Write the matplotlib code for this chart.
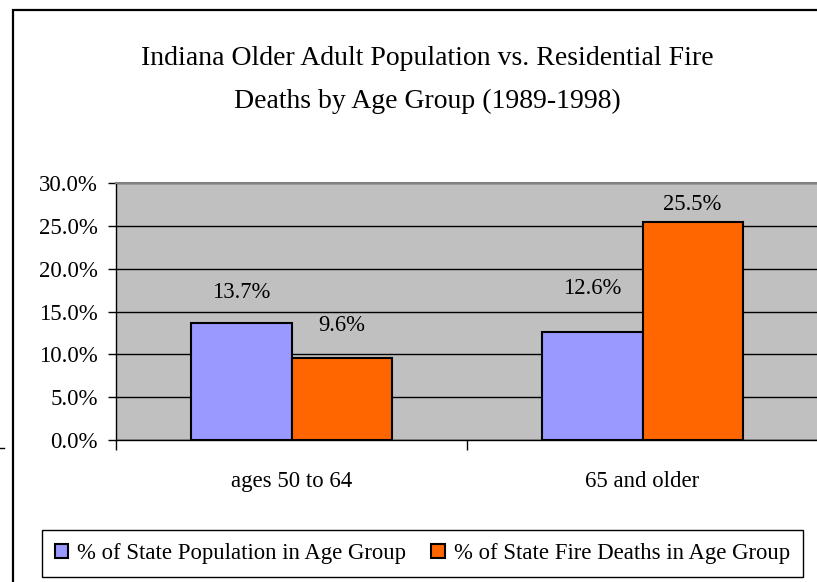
import matplotlib
matplotlib.use("Agg")
import matplotlib.pyplot as plt
from matplotlib.patches import Rectangle, Patch
import numpy as np

plt.rcParams['font.family'] = ['Liberation Serif', 'DejaVu Serif']

# ---- data ----
title = "Indiana Older Adult Population vs. Residential Fire\nDeaths by Age Group (1989-1998)"
categories = ["ages 50 to 64", "65 and older"]
series_names = ["% of State Population in Age Group", "% of State Fire Deaths in Age Group"]
population_pct = [13.7, 12.6]
fire_deaths_pct = [9.6, 25.5]
y_ticks = [0, 5, 10, 15, 20, 25, 30]

# ---- style ----
colors = ["#9999FF", "#FF6600"]
label_offsets_px = [[30, 44], [32, 17]]  # per series, per category

W, H = 817, 582
fig = plt.figure(figsize=(W / 100, H / 100), dpi=100)

# outer chart frame (extends past right/bottom edge)
fig.add_artist(Rectangle((12.5 / W, -0.1), 1.2, 1 - 9.5 / H + 0.1, transform=fig.transFigure,
                         fill=False, edgecolor='black', linewidth=1.6))
# small stray dash at left
fig.add_artist(plt.Line2D([0, 4 / W], [1 - 448 / H, 1 - 448 / H], transform=fig.transFigure,
                          color='black', linewidth=1))

left, right, top, bottom = 116 / W, 818 / W, 1 - 183 / H, 1 - 440 / H
ax = fig.add_axes([left, bottom, right - left, top - bottom])
ax.set_facecolor('#C0C0C0')

x = np.arange(len(categories))
w = 1 / 3.5
series = [population_pct, fire_deaths_pct]
for i, (vals, c) in enumerate(zip(series, colors)):
    xs = x + (i - 0.5) * w
    ax.bar(xs, vals, width=w, color=c, edgecolor='black', linewidth=1.5,
           label=series_names[i], zorder=3)
    for j, (bx, v) in enumerate(zip(xs, vals)):
        ax.annotate(f"{v:.1f}%", xy=(bx, v), xytext=(0, label_offsets_px[i][j] * 0.72),
                    textcoords='offset points', ha='center', va='center',
                    fontsize=16.3, zorder=4)

ax.set_xlim(-0.5, 1.5)
ax.set_ylim(0, 30)
ax.set_yticks(y_ticks)
ax.set_yticklabels([f"{t:.1f}%" for t in y_ticks], fontsize=16.5)
ax.yaxis.grid(True, color='black', linewidth=1, zorder=0)
ax.set_axisbelow(True)
ax.tick_params(axis='y', length=6, width=1, pad=7, direction='out')

ax.set_xticks(x)
ax.set_xticklabels(categories, fontsize=16.4)
ax.set_xticks([-0.5, 0.5, 1.5], minor=True)
ax.tick_params(axis='x', which='major', length=0, pad=22)
ax.tick_params(axis='x', which='minor', length=7, width=1, direction='out')

for s in ['left', 'bottom']:
    ax.spines[s].set_color('black')
    ax.spines[s].set_linewidth(1)
ax.spines['top'].set_color('#808080')
ax.spines['top'].set_linewidth(1.5)
ax.spines['right'].set_visible(False)

fig.text(427 / W, 1 - 80 / H, title, ha='center', va='center', fontsize=20,
         linespacing=1.95)

handles = [Patch(facecolor=c, edgecolor='black', linewidth=1.5) for c in colors]
leg = fig.legend(handles, series_names, loc='center',
                 bbox_to_anchor=(422.5 / W, 1 - 553.5 / H), ncol=2, fontsize=16.4,
                 frameon=True, fancybox=False, edgecolor='black', framealpha=1,
                 handlelength=0.6, handleheight=0.6, handletextpad=0.4,
                 columnspacing=1.1, borderpad=0.55, borderaxespad=0)
leg.get_frame().set_linewidth(1)

fig.savefig("out.png", dpi=100)
